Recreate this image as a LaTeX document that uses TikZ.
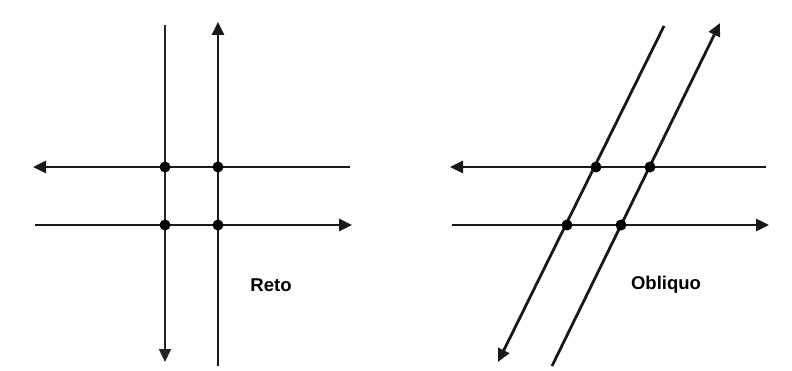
\documentclass[tikz,border=0pt]{standalone}
\usepackage{fontspec}
\setmainfont{Liberation Sans}
\usetikzlibrary{arrows.meta}
\tikzset{
  ln/.style={line width=2.8pt, black!90},
  thin ln/.style={line width=2pt, black!85},
  tip/.style={-{Triangle[length=13pt,width=12pt]}},
  dot/.style={circle, fill=black, inner sep=0pt, minimum size=11pt},
  lbl/.style={font=\fontsize{18.5}{20}\selectfont\bfseries, inner sep=0pt}
}
\begin{document}
\begin{tikzpicture}[x=1pt,y=-1pt]
\useasboundingbox (0,0) rectangle (792,371);
% ---- Left panel (Reto) ----
\coordinate (v1t) at (165,25);
\coordinate (v1b) at (165,362);
\coordinate (v2t) at (218,22);
\coordinate (v2b) at (218,366);
\coordinate (h1l) at (33,167);
\coordinate (h1r) at (350,167);
\coordinate (h2l) at (35,225);
\coordinate (h2r) at (352,225);
\draw[thin ln, tip] (v1t) -- (v1b);
\draw[ln, tip] (v2b) -- (v2t);
\draw[ln, tip] (h1r) -- (h1l);
\draw[ln, tip] (h2l) -- (h2r);
\node[dot] (a1) at (165,167) {};
\node[dot] (a2) at (218,167) {};
\node[dot] (a3) at (165,225) {};
\node[dot] (a4) at (218,225) {};
\node[lbl] (reto) at (271,285) {Reto};
% ---- Right panel (Obliquo) ----
\coordinate (o1t) at (664,26);
\coordinate (o1b) at (498,362);
\coordinate (o2t) at (720,23);
\coordinate (o2b) at (552,366);
\coordinate (k1l) at (450,167);
\coordinate (k1r) at (766,167);
\coordinate (k2l) at (452,225);
\coordinate (k2r) at (769,225);
\draw[ln, tip] (o1t) -- (o1b);
\draw[ln, tip] (o2b) -- (o2t);
\draw[ln, tip] (k1r) -- (k1l);
\draw[ln, tip] (k2l) -- (k2r);
\node[dot] (b1) at (596,167) {};
\node[dot] (b2) at (650,167) {};
\node[dot] (b3) at (567,225) {};
\node[dot] (b4) at (621,225) {};
\node[lbl] (obl) at (666,285) {Obliquo};
\end{tikzpicture}
\end{document}
